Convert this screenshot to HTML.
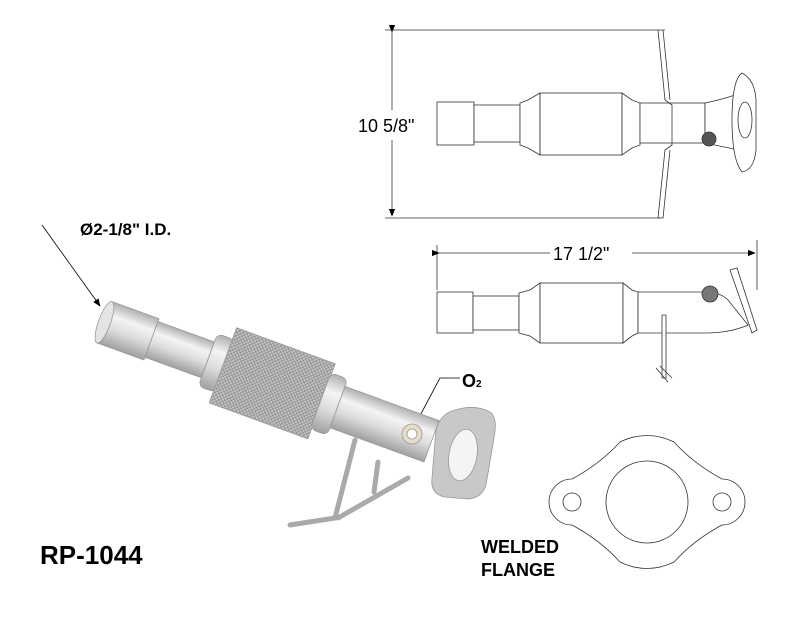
<!DOCTYPE html>
<html><head><style>
body{margin:0;background:#fff;width:800px;height:618px;overflow:hidden}
svg{display:block}
text{font-family:"Liberation Sans",Arial,sans-serif}
</style></head><body>
<svg width="800" height="618" viewBox="0 0 800 618" xmlns="http://www.w3.org/2000/svg">
<defs>
<linearGradient id="cyl" x1="0" y1="0" x2="0" y2="1">
<stop offset="0" stop-color="#b0b0b0"/><stop offset="0.3" stop-color="#f4f4f4"/><stop offset="0.6" stop-color="#dcdcdc"/><stop offset="1" stop-color="#a0a0a0"/>
</linearGradient>
<pattern id="mesh" width="4" height="4" patternUnits="userSpaceOnUse">
<rect width="4" height="4" fill="#c8c8c8"/><path d="M0 0L4 4M4 0L0 4" stroke="#888" stroke-width="0.7"/>
</pattern>
<marker id="ar" markerWidth="10" markerHeight="8" refX="9" refY="4" orient="auto"><path d="M0 0L10 4L0 8z" fill="#000"/></marker>
</defs>
<g fill="none" stroke="#333" stroke-width="0.8">
<line x1="385" y1="30" x2="665" y2="30"/>
<line x1="385" y1="218" x2="660" y2="218"/>
<line x1="392" y1="32" x2="392" y2="110" marker-start="url(#ar)"/>
<line x1="392" y1="140" x2="392" y2="216" marker-end="url(#ar)"/>
<rect x="437" y="102" width="37" height="43" fill="#fff"/>
<rect x="474" y="105" width="46" height="37" fill="#fff"/>
<path d="M520 103 L528 100 L540 93 L540 155 L528 148 L520 145Z" fill="#fff"/>
<rect x="540" y="93" width="82" height="62" fill="#fff"/>
<path d="M622 93 L632 100 L640 103 L640 145 L632 148 L622 155Z" fill="#fff"/>
<rect x="640" y="103" width="65" height="40" fill="#fff"/>
<path d="M705 103 Q720 100 735 95 L738 150 Q720 146 705 143Z" fill="#fff"/>
<path d="M742 73 Q755 80 756 100 L756 150 Q754 170 742 172 Q732 160 732 120 Q732 80 742 73Z" fill="#fff"/>
<ellipse cx="745" cy="120" rx="7" ry="18"/>
<circle cx="709" cy="139" r="7" fill="#555"/>
<path d="M658 30 L665 100 L672 105 L672 145 L665 150 L658 218 L663 218 L670 150"/>
<path d="M663 30 L670 100"/>
<line x1="437" y1="245" x2="437" y2="290"/>
<line x1="757" y1="240" x2="757" y2="290"/>
<line x1="439" y1="253" x2="550" y2="253" marker-start="url(#ar)"/>
<line x1="632" y1="253" x2="755" y2="253" marker-end="url(#ar)"/>
<rect x="437" y="292" width="36" height="41" fill="#fff"/>
<rect x="473" y="296" width="46" height="34" fill="#fff"/>
<path d="M519 293 L530 290 L540 283 L540 343 L530 336 L519 333Z" fill="#fff"/>
<rect x="540" y="283" width="83" height="60" fill="#fff"/>
<path d="M623 283 L632 290 L638 292 L638 333 L632 336 L623 343Z" fill="#fff"/>
<path d="M638 292 L705 292 Q720 292 728 300 L748 325 Q730 333 705 333 L638 333Z" fill="#fff"/>
<path d="M730 270 L737 268 L757 330 L752 333Z" fill="#fff"/>
<circle cx="710" cy="294" r="8" fill="#777"/>
<path d="M662 315 L662 378 L666 378 L666 315Z" fill="#fff"/>
<path d="M656 368 L668 382 M660 366 L672 378"/>
<path d="M572 479 A23 23 0 0 0 572 525 Q600 540 620 562 Q647 575 674 562 Q694 540 722 525 A23 23 0 0 0 722 479 Q694 464 674 442 Q647 429 620 442 Q600 464 572 479Z"/>
<circle cx="647" cy="502" r="41"/>
<circle cx="572" cy="502" r="9"/>
<circle cx="722" cy="502" r="9"/>
<line x1="42" y1="225" x2="100" y2="306" marker-end="url(#ar)" stroke="#000"/>
<polyline points="460,378 440,378 415,425" marker-end="url(#ar)" stroke="#000"/>
</g>
<g>
<path d="M355 440 L335 518 L290 525 M338 518 L408 478 M378 462 L374 492" fill="none" stroke="#aaa" stroke-width="5" stroke-linecap="round" stroke-linejoin="round"/>
</g>
<g transform="translate(112,325) rotate(20)" stroke="#999" stroke-width="0.8">
<rect x="-8" y="-22" width="50" height="44" fill="url(#cyl)"/>
<ellipse cx="-8" cy="0" rx="6" ry="22" fill="#e4e4e4"/>
<rect x="42" y="-19" width="60" height="38" fill="url(#cyl)"/>
<rect x="102" y="-28" width="18" height="56" rx="6" fill="url(#cyl)"/>
<rect x="118" y="-40" width="105" height="80" fill="url(#mesh)"/>
<rect x="222" y="-30" width="18" height="60" rx="6" fill="url(#cyl)"/>
<rect x="240" y="-22" width="100" height="44" fill="url(#cyl)"/>
</g>
<g stroke="#999" stroke-width="0.8">
<path d="M455 410 Q475 404 490 412 Q498 418 494 438 L486 485 Q482 498 468 499 L445 497 Q430 494 432 478 L436 430 Q440 414 455 410Z" fill="#c8c8c8"/>
<ellipse cx="463" cy="455" rx="14" ry="26" fill="#f4f4f4" transform="rotate(10 463 455)"/>
<circle cx="412" cy="434" r="10" fill="#e6dcc8"/>
<circle cx="412" cy="434" r="5" fill="#fff"/>
</g>
<g font-family="Liberation Sans,Arial,sans-serif">
<text x="358" y="132" font-size="18">10 5/8"</text>
<text x="553" y="260" font-size="18">17 1/2"</text>
<text x="80" y="235" font-size="17" font-weight="bold">Ø2-1/8" I.D.</text>
<text x="462" y="387" font-size="18" font-weight="bold">O<tspan font-size="10">2</tspan></text>
<text x="40" y="564" font-size="26" font-weight="bold">RP-1044</text>
<text x="481" y="553" font-size="18" font-weight="bold">WELDED</text>
<text x="481" y="576" font-size="18" font-weight="bold">FLANGE</text>
</g>
</svg>
</body></html>
